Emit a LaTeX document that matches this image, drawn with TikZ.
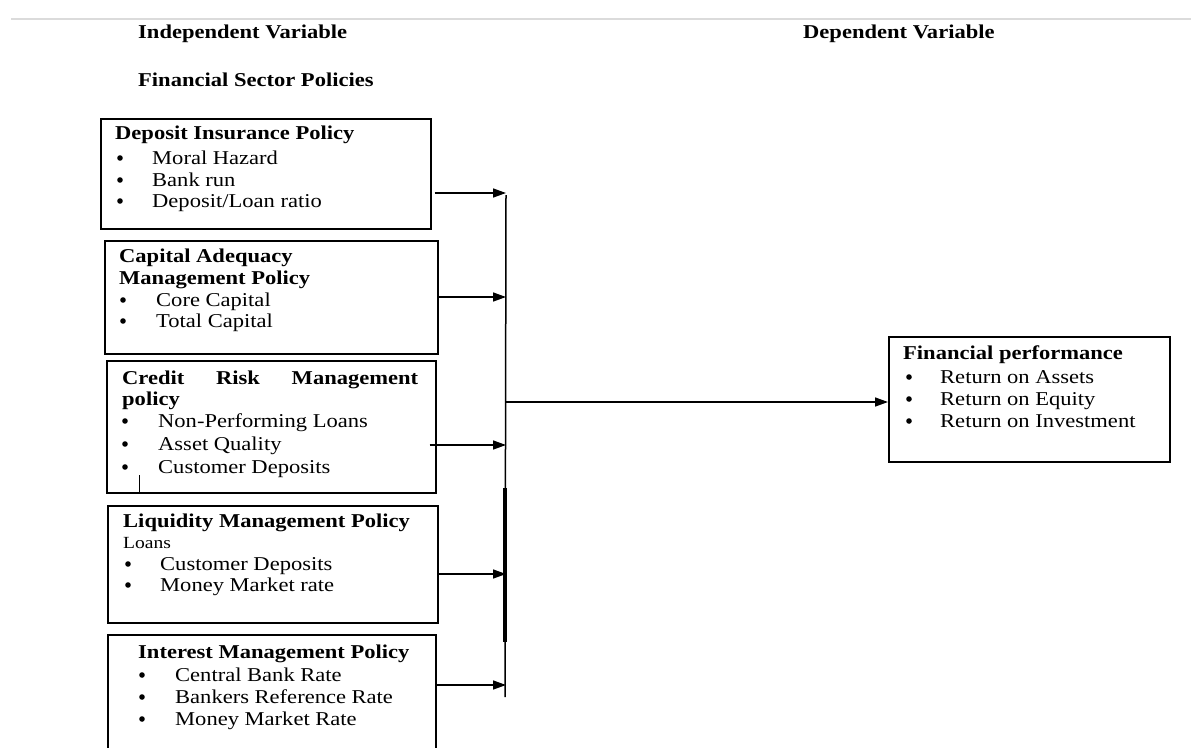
\documentclass[tikz,border=0pt]{standalone}
\usepackage{fontspec}
\setmainfont{Liberation Serif}[FakeStretch=1.15]
\usetikzlibrary{arrows.meta}
\tikzset{
  box/.style={draw=black, line width=1.5pt, inner sep=0pt, anchor=north west},
  txt/.style={inner sep=0pt, anchor=base west, font=\fontsize{19.6}{22}\selectfont},
  hd/.style={inner sep=0pt, anchor=base west, font=\fontsize{19.6}{22}\selectfont\bfseries},
  small/.style={inner sep=0pt, anchor=base west, font=\fontsize{17}{19}\selectfont},
  bul/.style={circle, fill=black, inner sep=0pt, minimum size=5.6pt, yshift=6pt},
  arr/.style={line width=1.5pt, -{Triangle[length=13pt,width=9pt]}},
  bus/.style={line width=1.5pt},
}
\begin{document}
\begin{tikzpicture}[x=1pt,y=-1pt]
\useasboundingbox (0,0) rectangle (1191,747);
\fill[white] (0,0) rectangle (1191,747);
\draw[line width=2pt, black!14] (11,19) -- (1191,19);

% headers
\node[hd] (iv) at (138,38) {Independent Variable};
\node[hd] (fsp) at (138,86) {Financial Sector Policies};
\node[hd] (dv) at (803,38) {Dependent Variable};

% boxes
\node[box, minimum width=330pt, minimum height=110pt] (b1) at (100,118) {};
\node[box, minimum width=333pt, minimum height=113pt] (b2) at (104,240) {};
\node[box, minimum width=329pt, minimum height=132pt] (b3) at (106,360) {};
\node[box, minimum width=330pt, minimum height=117pt] (b4) at (107,505) {};
\node[box, minimum width=328pt, minimum height=130pt] (b5) at (107,634) {};
\node[box, minimum width=281pt, minimum height=125pt] (fp) at (888,336) {};

% box 1
\node[hd] (b1t) at (115,139) {Deposit Insurance Policy};
\node[bul] (b1b1) at (120,164) {};
\node[txt] (b1i1) at (152,164) {Moral Hazard};
\node[bul] (b1b2) at (120,186) {};
\node[txt] (b1i2) at (152,186) {Bank run};
\node[bul] (b1b3) at (120,207) {};
\node[txt] (b1i3) at (152,207) {Deposit/Loan ratio};

% box 2
\node[hd] (b2t1) at (119,262) {Capital Adequacy};
\node[hd] (b2t2) at (119,284) {Management Policy};
\node[bul] (b2b1) at (123,306) {};
\node[txt] (b2i1) at (156,306) {Core Capital};
\node[bul] (b2b2) at (123,327) {};
\node[txt] (b2i2) at (156,327) {Total Capital};

% box 3
\node[hd] (b3t1) at (122,384) {\makebox[296pt][l]{Credit\hfill Risk\hfill Management}};
\node[hd] (b3t2) at (122,405) {policy};
\node[bul] (b3b1) at (125,427) {};
\node[txt] (b3i1) at (158,427) {Non-Performing Loans};
\node[bul] (b3b2) at (125,450) {};
\node[txt] (b3i2) at (158,450) {Asset Quality};
\node[bul] (b3b3) at (125,473) {};
\node[txt] (b3i3) at (158,473) {Customer Deposits};
\coordinate (tickA) at (139,475);
\draw[line width=1pt] (tickA) -- (tickA |- b3.south);

% box 4
\node[hd] (b4t) at (123,527) {Liquidity Management Policy};
\node[small] (b4l) at (123,548) {Loans};
\node[bul] (b4b1) at (128,570) {};
\node[txt] (b4i1) at (160,570) {Customer Deposits};
\node[bul] (b4b2) at (128,591) {};
\node[txt] (b4i2) at (160,591) {Money Market rate};

% box 5
\node[hd] (b5t) at (138,658) {Interest Management Policy};
\node[bul] (b5b1) at (142,681) {};
\node[txt] (b5i1) at (175,681) {Central Bank Rate};
\node[bul] (b5b2) at (142,703) {};
\node[txt] (b5i2) at (175,703) {Bankers Reference Rate};
\node[bul] (b5b3) at (142,725) {};
\node[txt] (b5i3) at (175,725) {Money Market Rate};

% financial performance
\node[hd] (fpt) at (903,359) {Financial performance};
\node[bul] (fpb1) at (909,383) {};
\node[txt] (fpi1) at (940,383) {Return on Assets};
\node[bul] (fpb2) at (909,405) {};
\node[txt] (fpi2) at (940,405) {Return on Equity};
\node[bul] (fpb3) at (909,427) {};
\node[txt] (fpi3) at (940,427) {Return on Investment};

% bus
\coordinate (bustop) at (506,195);
\coordinate (busbot) at (505,697);
\coordinate (bus1) at (506,193);
\coordinate (bus2) at (506,297);
\coordinate (bus3) at (506,445);
\coordinate (bus4) at (506,574);
\coordinate (bus5) at (506,685);
\coordinate (busmid) at (505,402);
\coordinate (thickA) at (505,488);
\coordinate (thickB) at (505,642);
\draw[bus] (bustop) -- (busbot);
\draw[line width=3.2pt] (thickA) -- (thickB);

\draw[arr] ([xshift=3pt]b1.east |- bus1) -- (bus1);
\draw[arr] (b2.east |- bus2) -- (bus2);
\draw[arr] ([xshift=-7pt]b3.east |- bus3) -- (bus3);
\draw[arr] (b4.east |- bus4) -- (bus4);
\draw[arr] (b5.east |- bus5) -- (bus5);
\draw[arr] (busmid) -- (fp.west |- busmid);
\end{tikzpicture}
\end{document}
